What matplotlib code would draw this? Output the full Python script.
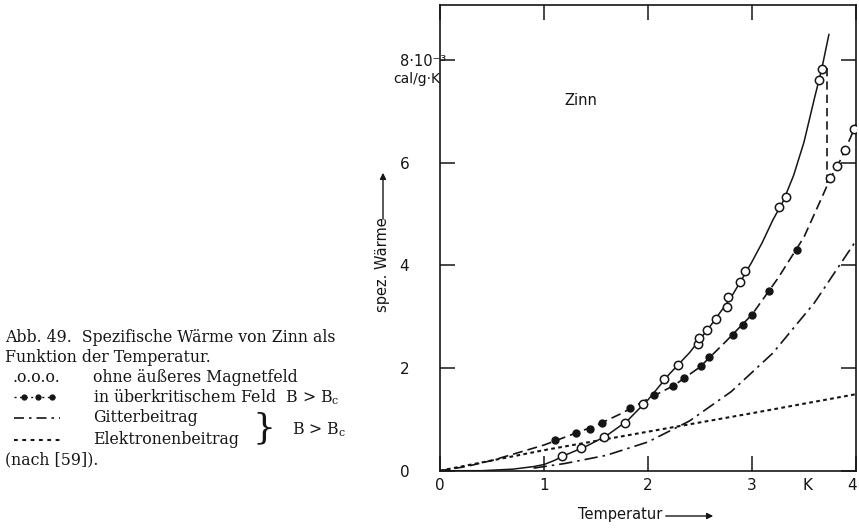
import matplotlib
matplotlib.use("Agg")
import matplotlib.pyplot as plt
from matplotlib.lines import Line2D
from matplotlib.patches import FancyArrowPatch
from matplotlib.transforms import ScaledTranslation
from matplotlib import font_manager

# ---------------- data ----------------
# temperature in K, specific heat in 10^-3 cal/(g K)
T_super_line = [0.0, 0.4, 0.7, 0.9, 1.0, 1.1, 1.2, 1.4, 1.6, 1.8, 2.0, 2.2, 2.4, 2.6,
                2.8, 2.9, 3.0, 3.1, 3.2, 3.3, 3.4, 3.5, 3.6, 3.67, 3.74]
C_super_line = [0.0, 0.0, 0.03, 0.08, 0.12, 0.2, 0.3, 0.47, 0.68, 0.97, 1.38, 1.87, 2.3, 2.82,
                3.38, 3.72, 4.07, 4.45, 4.88, 5.25, 5.75, 6.4, 7.25, 7.82, 8.5]

T_normal_line = [0.0, 0.25, 0.5, 0.75, 1.0, 1.25, 1.5, 1.75, 2.0, 2.25, 2.5, 2.75, 3.0, 3.25,
                 3.5, 3.6, 3.7, 3.75, 3.85, 3.95, 4.0]
C_normal_line = [0.0, 0.08, 0.2, 0.35, 0.5, 0.69, 0.88, 1.12, 1.4, 1.66, 2.02, 2.52, 3.04, 3.75,
                 4.55, 5.0, 5.45, 5.68, 6.05, 6.5, 6.75]

T_lattice = [0.9, 1.2, 1.6, 2.0, 2.4, 2.8, 3.2, 3.6, 4.0]
C_lattice = [0.05, 0.14, 0.3, 0.56, 0.97, 1.54, 2.29, 3.27, 4.48]

T_electron = [0.0, 1.0, 2.0, 3.0, 4.0]
C_electron = [0.0, 0.4, 0.76, 1.12, 1.49]

T_open = [1.17, 1.36, 1.58, 1.78, 1.95, 2.15, 2.29, 2.48, 2.49, 2.57, 2.65, 2.76, 2.77,
          2.88, 2.93, 3.26, 3.33, 3.64, 3.67, 3.75, 3.82, 3.89, 3.98]
C_open = [0.29, 0.44, 0.65, 0.93, 1.29, 1.78, 2.05, 2.47, 2.58, 2.75, 2.95, 3.18, 3.38,
          3.68, 3.88, 5.13, 5.34, 7.6, 7.82, 5.7, 5.93, 6.25, 6.66]

T_filled = [1.11, 1.31, 1.44, 1.56, 1.83, 2.06, 2.24, 2.35, 2.51, 2.59, 2.82, 2.91, 3.0, 3.16, 3.43]
C_filled = [0.6, 0.74, 0.82, 0.93, 1.22, 1.47, 1.64, 1.8, 2.04, 2.21, 2.64, 2.83, 3.03, 3.5, 4.3]

T_jump = [3.72, 3.72]
C_jump = [5.6, 7.85]

x_ticks = [0, 1, 2, 3, 3.53, 4]
x_tick_labels = ["0", "1", "2", "3", "K", "4"]
y_ticks = [0, 2, 4, 6, 8]
y_tick_labels = ["0", "2", "4", "6", "8·10⁻³"]

# ---------------- fonts ----------------
installed = {f.name for f in font_manager.fontManager.ttflist}
narrow = "Liberation Sans Narrow" if "Liberation Sans Narrow" in installed else "DejaVu Sans"
serif = "DejaVu Serif"
plt.rcParams["mathtext.fontset"] = "dejavuserif"

# ---------------- figure ----------------
W, H = 859, 529
fig = plt.figure(figsize=(W / 100, H / 100), dpi=100)
fig.patch.set_facecolor("white")

def fx(px):
    return px / W

def fy(py):
    return 1 - py / H

ax = fig.add_axes([fx(440), fy(470.7), (856 - 440) / W, (470.7 - 5) / H])
ink = "#151515"

ax.plot(T_super_line, C_super_line, color=ink, lw=1.1, solid_capstyle="round")
ax.plot(T_normal_line, C_normal_line, color=ink, lw=1.2, linestyle=(0, (6, 3)))
ax.plot(T_lattice, C_lattice, color=ink, lw=1.2, linestyle=(0, (8, 3, 1.5, 3)))
ax.plot(T_electron, C_electron, color=ink, lw=1.5, linestyle=(0, (1.8, 1.6)))
ax.plot(T_jump, C_jump, color=ink, lw=1.2, linestyle=(0, (5, 3)))
ax.plot(T_open, C_open, linestyle="none", marker="o", ms=6, mfc="white", mec=ink, mew=1.1, zorder=5)
ax.plot(T_filled, C_filled, linestyle="none", marker="o", ms=5, mfc=ink, mec=ink, zorder=5)

ax.set_xlim(0, 4)
ax.set_ylim(0, 9.07)
for s in ax.spines.values():
    s.set_linewidth(1.2)
    s.set_color(ink)

ax.set_xticks(x_ticks, x_tick_labels)
ax.set_yticks(y_ticks, y_tick_labels)
ax.tick_params(axis="both", direction="in", length=11, width=1.1, color=ink,
               top=True, right=True, labelsize=11, labelcolor=ink)
ax.tick_params(axis="x", pad=5)
ax.tick_params(axis="y", pad=29)
for lab in ax.get_yticklabels() + ax.get_xticklabels():
    lab.set_family(narrow)
for lab in ax.get_yticklabels():
    lab.set_horizontalalignment("left")
ax.get_yticklabels()[-1].set_fontsize(10.5)
last = ax.get_xticklabels()[-1]
last.set_transform(last.get_transform() + ScaledTranslation(-2.5 / 72, 0, fig.dpi_scale_trans))
for tick, lab in zip(ax.xaxis.get_major_ticks(), x_tick_labels):
    if lab == "K":
        tick.tick1line.set_visible(False)
        tick.tick2line.set_visible(False)

ax.text(-0.113, 7.62, "cal/g·K", transform=ax.get_yaxis_transform(), fontsize=10,
        family=narrow, color=ink, ha="left", va="center")
ax.text(1.35, 7.21, "Zinn", fontsize=10.5, family=narrow, color=ink, ha="center", va="center")

# axis labels with arrows
fig.text(fx(578), fy(515), "Temperatur", fontsize=10.5, family=narrow, color=ink,
         ha="left", va="center")
fig.add_artist(FancyArrowPatch((fx(663), fy(516)), (fx(716), fy(516)),
               transform=fig.transFigure, arrowstyle="-|>", mutation_scale=9, lw=1.0, color=ink))
fig.text(fx(383), fy(265), "spez. Wärme", fontsize=10.5, family=narrow, color=ink, rotation=90,
         ha="center", va="center")
fig.add_artist(FancyArrowPatch((fx(383), fy(222)), (fx(383), fy(170)),
               transform=fig.transFigure, arrowstyle="-|>", mutation_scale=9, lw=1.0, color=ink))

# caption (left part)
cs = 11.3
fig.text(fx(5), fy(337), "Abb. 49.  Spezifische Wärme von Zinn als", fontsize=cs,
         family=serif, color=ink, va="center")
fig.text(fx(5), fy(357), "Funktion der Temperatur.", fontsize=cs, family=serif, color=ink, va="center")
fig.text(fx(12), fy(377), ".o.o.o.", fontsize=cs, family=serif, color=ink, va="center")
fig.text(fx(93), fy(377), "ohne äußeres Magnetfeld", fontsize=cs, family=serif, color=ink, va="center")
fig.text(fx(93), fy(397), "in überkritischem Feld  B > B$_\\mathrm{c}$", fontsize=cs,
         family=serif, color=ink, va="center")
fig.text(fx(93), fy(418), "Gitterbeitrag", fontsize=cs, family=serif, color=ink, va="center")
fig.text(fx(93), fy(440), "Elektronenbeitrag", fontsize=cs, family=serif, color=ink, va="center")
fig.text(fx(5), fy(460), "(nach [59]).", fontsize=cs, family=serif, color=ink, va="center")
fig.text(fx(252), fy(428), "}", fontsize=26, family=serif, color=ink, va="center")
fig.text(fx(292), fy(430), "B > B$_\\mathrm{c}$", fontsize=cs, family=serif, color=ink, va="center")

fig.add_artist(Line2D([fx(14), fx(58)], [fy(397), fy(397)], transform=fig.transFigure,
                      color=ink, lw=1.0, linestyle=(0, (1.5, 2.5))))
for px in (24, 38, 52):
    fig.add_artist(Line2D([fx(px)], [fy(397)], transform=fig.transFigure, color=ink,
                          marker="o", ms=3.5, linestyle="none"))
fig.add_artist(Line2D([fx(14), fx(60)], [fy(418), fy(418)], transform=fig.transFigure,
                      color=ink, lw=1.2, linestyle=(0, (6, 3, 1.5, 3))))
fig.add_artist(Line2D([fx(14), fx(60)], [fy(440), fy(440)], transform=fig.transFigure,
                      color=ink, lw=1.5, linestyle=(0, (1.8, 2.2))))

fig.savefig("out.png", dpi=100, facecolor="white")
